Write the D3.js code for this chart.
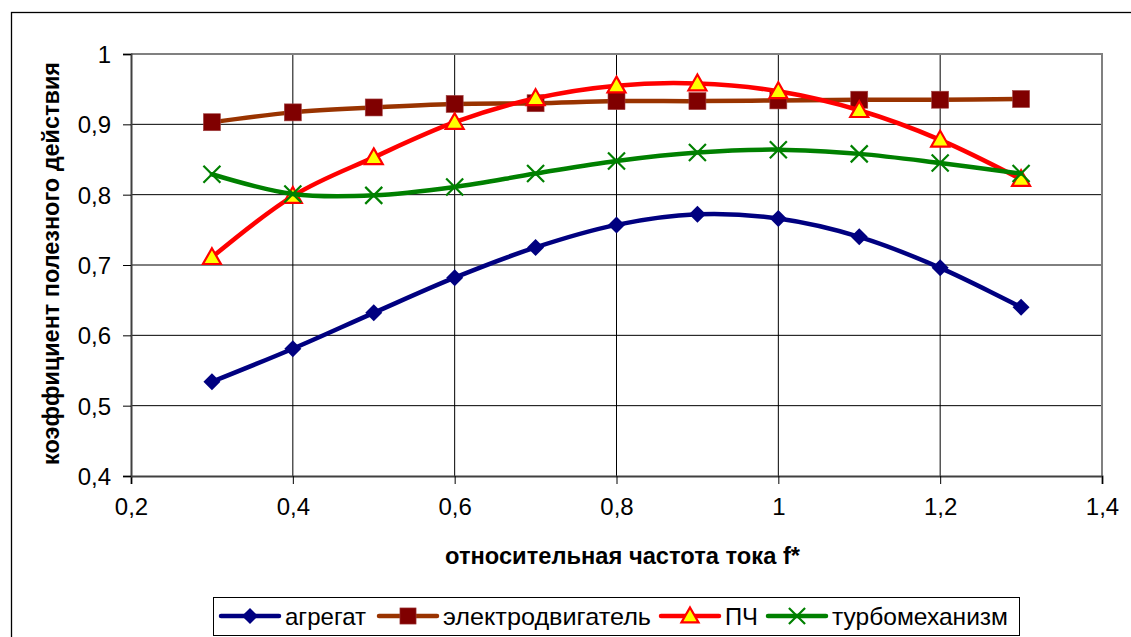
<!DOCTYPE html>
<html>
<head>
<meta charset="utf-8">
<script src="https://cdn.jsdelivr.net/npm/d3@7"></script>
<style>
  html, body { margin: 0; padding: 0; background: #fff; }
  svg { display: block; font-family: Arial, "Liberation Sans", sans-serif; }
</style>
</head>
<body>
<svg id="chart" width="1131" height="637"></svg>
<script>
// Relative current frequency f*
const freq = [0.3, 0.4, 0.5, 0.6, 0.7, 0.8, 0.9, 1.0, 1.1, 1.2, 1.3];

// Efficiency of each component
const agregat   = [0.534, 0.581, 0.632, 0.682, 0.725, 0.757, 0.772, 0.766, 0.740, 0.696, 0.640];
const motor     = [0.903, 0.917, 0.924, 0.929, 0.930, 0.933, 0.933, 0.934, 0.935, 0.935, 0.936];
const converter = [0.711, 0.798, 0.853, 0.903, 0.937, 0.955, 0.958, 0.947, 0.920, 0.878, 0.822];
const turbo     = [0.829, 0.801, 0.799, 0.811, 0.830, 0.848, 0.860, 0.864, 0.858, 0.845, 0.830];

const seriesNames = ["агрегат", "электродвигатель", "ПЧ", "турбомеханизм"];

const xTicks = [0.2, 0.4, 0.6, 0.8, 1.0, 1.2, 1.4];
const yTicks = [0.4, 0.5, 0.6, 0.7, 0.8, 0.9, 1.0];

const xTitle = "относительная частота тока f*";
const yTitle = "коэффициент полезного действия";

const fmt = v => (Math.round(v * 10) / 10).toString().replace(".", ",");

const svg = d3.select("#chart");

// outer chart frame
svg.append("rect")
  .attr("x", 11.5).attr("y", 12.5)
  .attr("width", 1200).attr("height", 700)
  .attr("fill", "none").attr("stroke", "#000").attr("stroke-width", 1.3);

const plot = { left: 131, right: 1102, top: 54, bottom: 476 };

const x = d3.scaleLinear().domain([0.2, 1.4]).range([plot.left, plot.right]);
const y = d3.scaleLinear().domain([0.4, 1.0]).range([plot.bottom, plot.top]);

// gridlines
const grid = svg.append("g");
grid.selectAll("line.h").data(yTicks.filter(v => v > 0.4 && v < 1.0)).join("line")
  .attr("x1", plot.left).attr("x2", plot.right)
  .attr("y1", d => y(d)).attr("y2", d => y(d))
  .attr("stroke", "#000").attr("stroke-width", 1);
grid.selectAll("line.v").data(xTicks.filter(v => v > 0.2 && v < 1.4)).join("line")
  .attr("y1", plot.top).attr("y2", plot.bottom)
  .attr("x1", d => x(d)).attr("x2", d => x(d))
  .attr("stroke", "#000").attr("stroke-width", 1);

// plot area border: top/right grey, axes dark
svg.append("path")
  .attr("d", `M${plot.left},${plot.top}H${plot.right}V${plot.bottom}`)
  .attr("fill", "none").attr("stroke", "#808080").attr("stroke-width", 2);

const xAxis = d3.axisBottom(x).tickValues(xTicks).tickSize(8).tickPadding(14).tickFormat(fmt);
const yAxis = d3.axisLeft(y).tickValues(yTicks).tickSize(8).tickPadding(12).tickFormat(fmt);

const gx = svg.append("g").attr("transform", `translate(0,${plot.bottom})`).call(xAxis);
const gy = svg.append("g").attr("transform", `translate(${plot.left},0)`).call(yAxis);
[gx, gy].forEach(g => {
  g.select(".domain").attr("stroke", "#404040").attr("stroke-width", 2);
  g.selectAll(".tick line").attr("stroke", "#000").attr("stroke-width", 1);
  g.selectAll(".tick text").attr("fill", "#000")
    .style("font-size", "24px").style("font-family", "Arial, 'Liberation Sans', sans-serif");
});
gy.selectAll(".tick text").attr("dy", "0.36em");
gx.selectAll(".tick text").attr("dy", "0.71em");

// axis titles
svg.append("text")
  .attr("x", 622.5).attr("y", 564)
  .attr("text-anchor", "middle")
  .attr("textLength", 355).attr("lengthAdjust", "spacingAndGlyphs")
  .style("font-size", "23px").style("font-weight", "bold")
  .text(xTitle);
svg.append("text")
  .attr("transform", `translate(59,263.5) rotate(-90)`)
  .attr("text-anchor", "middle")
  .attr("textLength", 403).attr("lengthAdjust", "spacingAndGlyphs")
  .style("font-size", "23px").style("font-weight", "bold")
  .text(yTitle);

// marker drawers
const markers = {
  diamond: (g, s) => g.append("path").attr("d", `M0,${-s}L${s},0L0,${s}L${-s},0Z`).attr("fill", "#000080"),
  square: (g, s) => g.append("rect").attr("x", -s).attr("y", -s).attr("width", 2 * s).attr("height", 2 * s)
                     .attr("fill", "#800000").attr("stroke", "#a04040").attr("stroke-width", 0.6),
  triangle: (g, s) => g.append("path").attr("d", `M0,${-s}L${s},${s * 0.75}L${-s},${s * 0.75}Z`)
                     .attr("fill", "#FFFF00").attr("stroke", "#FF0000").attr("stroke-width", 2.2).attr("stroke-linejoin", "miter"),
  cross: (g, s) => g.append("path").attr("d", `M${-s},${-s}L${s},${s}M${-s},${s}L${s},${-s}`)
                     .attr("stroke", "#008000").attr("stroke-width", 2.2).attr("fill", "none")
};

const series = [
  { name: seriesNames[0], values: agregat,   line: "#000080", marker: "diamond",  size: 8.5, labelWidth: 81 },
  { name: seriesNames[1], values: motor,     line: "#993300", marker: "square",   size: 8.5, labelWidth: 208 },
  { name: seriesNames[2], values: converter, line: "#FF0000", marker: "triangle", size: 9,   labelWidth: 33 },
  { name: seriesNames[3], values: turbo,     line: "#008000", marker: "cross",    size: 8.5, labelWidth: 176 }
];

const line = d3.line()
  .x((d, i) => x(freq[i]))
  .y(d => y(d))
  .curve(d3.curveCardinal.tension(0));

series.forEach(s => {
  const g = svg.append("g");
  g.append("path").datum(s.values)
    .attr("d", line)
    .attr("fill", "none").attr("stroke", s.line).attr("stroke-width", 4.5)
    .attr("stroke-linejoin", "round").attr("stroke-linecap", "round");
  s.values.forEach((v, i) => {
    const m = g.append("g").attr("transform", `translate(${x(freq[i])},${y(v)})`);
    markers[s.marker](m, s.size);
  });
});

// legend
const legend = svg.append("g");
legend.append("rect")
  .attr("x", 213.5).attr("y", 597.5).attr("width", 806).attr("height", 38)
  .attr("fill", "#fff").attr("stroke", "#000").attr("stroke-width", 1);
const legendX = [221, 379, 661, 768];
const legendY = 616;
series.forEach((s, i) => {
  const lg = legend.append("g").attr("transform", `translate(${legendX[i]},${legendY})`);
  lg.append("line").attr("x1", 0).attr("x2", 58).attr("y1", 0).attr("y2", 0)
    .attr("stroke", s.line).attr("stroke-width", 4.5).attr("stroke-linecap", "round");
  const m = lg.append("g").attr("transform", "translate(29,0)");
  markers[s.marker](m, s.size * 0.95);
  lg.append("text").attr("x", 64).attr("y", 0).attr("dy", "0.36em")
    .attr("textLength", s.labelWidth).attr("lengthAdjust", "spacingAndGlyphs")
    .style("font-size", "24px").text(s.name);
});
</script>
</body>
</html>
